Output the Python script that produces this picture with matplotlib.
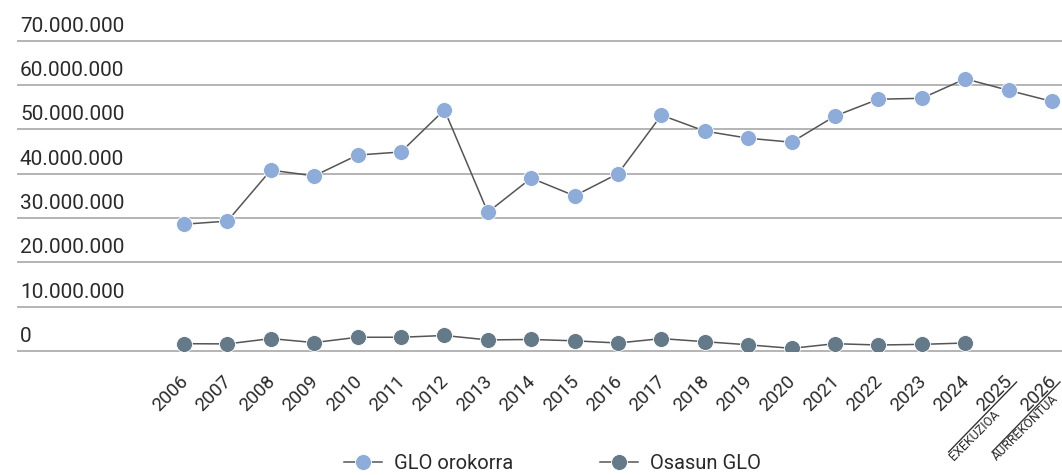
import numpy as np
import matplotlib
matplotlib.use("Agg")
import matplotlib.pyplot as plt
from matplotlib.lines import Line2D
from matplotlib.transforms import ScaledTranslation, offset_copy, IdentityTransform

plt.rcParams['font.family'] = ['Roboto', 'DejaVu Sans']

# Datuak
urteak = [str(u) for u in range(2006, 2027)]
glo_orokorra = [28.6, 29.3, 40.8, 39.5, 44.2, 44.9, 54.4, 31.3, 39.0, 35.0, 40.0,
                53.2, 49.6, 48.0, 47.1, 53.0, 56.8, 57.0, 61.4, 58.8, 56.3]
osasun_glo = [1.65, 1.6, 2.8, 1.9, 3.1, 3.1, 3.5, 2.5, 2.6, 2.3, 1.8,
              2.8, 2.1, 1.4, 0.6, 1.65, 1.35, 1.5, 1.8]
y_ticks = [0, 10_000_000, 20_000_000, 30_000_000, 40_000_000, 50_000_000,
           60_000_000, 70_000_000]
azpitituluak = {"2025": "EXEKUZIOA", "2026": "AURREKONTUA"}

kolore_glo = "#8eacd9"
kolore_osasun = "#657a88"
lerro_kolorea = "#555555"
testu_kolorea = "#2a2a2a"

fig = plt.figure(figsize=(10.62, 4.75), dpi=100)
ax = fig.add_axes([18 / 1062, 124 / 475, 1 - 18 / 1062, 351 / 475])

x1 = np.arange(len(glo_orokorra))
x2 = np.arange(len(osasun_glo))
y1 = np.array(glo_orokorra) * 1e6
y2 = np.array(osasun_glo) * 1e6

for v in y_ticks:
    ax.axhline(v, color="#b4b4b4", lw=1.4, zorder=1, clip_on=False)
    ax.annotate(f"{v:,}".replace(",", "."), xy=(0, v), xycoords=ax.get_yaxis_transform(),
                xytext=(2, 9), textcoords="offset pixels", fontsize=15,
                color=testu_kolorea, va="baseline", ha="left")

ax.plot(x1, y1, color=lerro_kolorea, lw=1.1, marker="o", ms=11.5,
        mfc=kolore_glo, mec="white", mew=0.6, zorder=3, label="GLO orokorra")
ax.plot(x2, y2, color=lerro_kolorea, lw=1.1, marker="o", ms=11.5,
        mfc=kolore_osasun, mec="white", mew=0.6, zorder=3, label="Osasun GLO")

ax.set_xlim(-166 / 43.4, 20 + 10 / 43.4)
ax.set_ylim(0, 351 / 4.433 * 1e6)
for s in ax.spines.values():
    s.set_visible(False)
ax.set_yticks([])
ax.set_xticks(range(len(urteak)))
ax.set_xticklabels(urteak, rotation=45, ha="right", va="top",
                   rotation_mode="anchor", fontsize=13.5, color=testu_kolorea)
ax.tick_params(axis="x", length=0, pad=15)
for lab in ax.get_xticklabels():
    lab.set_transform(lab.get_transform() + ScaledTranslation(-5 / 100, 0, fig.dpi_scale_trans))

# 2025 eta 2026 azpitituluak
for urtea, testua in azpitituluak.items():
    i = urteak.index(urtea)
    px, py = ax.transData.transform((i, 0))
    fig.add_artist(Line2D([px - 60, px + 8], [py - 101, py - 31], color="#333333",
                          lw=1.0, transform=IdentityTransform()))
    tr = offset_copy(ax.get_xaxis_transform(), fig=fig, x=-55, y=-110, units="dots")
    ax.text(i, 0, testua, transform=tr, rotation=45, rotation_mode="anchor",
            ha="left", va="baseline", fontsize=9, color=testu_kolorea, clip_on=False)

fig.legend(loc="center", bbox_to_anchor=(0.52, 0.025), ncol=2, frameon=False,
           fontsize=14.5, handlelength=1.9, handletextpad=0.6, columnspacing=4.3,
           labelcolor=testu_kolorea)

fig.savefig("out.png", dpi=100)
